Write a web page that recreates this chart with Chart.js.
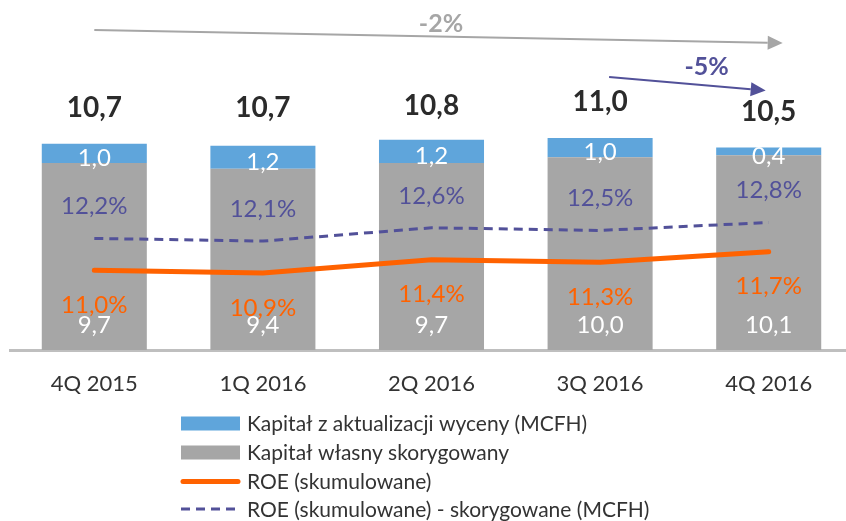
<!DOCTYPE html>
<html>
<head>
<meta charset="utf-8">
<script src="https://cdn.jsdelivr.net/npm/chart.js@4.4.0/dist/chart.umd.min.js"></script>
<style>
  html, body { margin: 0; padding: 0; overflow: hidden; background: #fff; width: 846px; height: 521px; }
  #wrap { width: 853px; height: 521px; }
</style>
</head>
<body>
<div id="wrap"><canvas id="c" width="853" height="521"></canvas></div>
<script>
// Quarterly equity (PLN bn) and cumulative ROE
const quarters = ['4Q 2015', '1Q 2016', '2Q 2016', '3Q 2016', '4Q 2016'];
const equityAdjusted = [9.7, 9.4, 9.7, 10.0, 10.1];
const revaluationReserve = [1.0, 1.2, 1.2, 1.0, 0.4];
const totalEquity = [10.7, 10.7, 10.8, 11.0, 10.5];
const roe = [11.0, 10.9, 11.4, 11.3, 11.7];
const roeAdjusted = [12.2, 12.1, 12.6, 12.5, 12.8];
const changeLabels = ['-2%', '-5%'];

const C_BLUE = '#5fa5db';
const C_GRAY = '#a6a6a6';
const C_ORANGE = '#ff6200';
const C_PURPLE = '#525199';
const C_TEXT = '#333333';
const FONT = 'Lato, "Open Sans", sans-serif';

const fmt = (v, pct) => v.toFixed(1).replace('.', ',') + (pct ? '%' : '');

function arrow(ctx, x1, y1, x2, y2, color, width) {
  const ang = Math.atan2(y2 - y1, x2 - x1);
  const len = 15, half = 7;
  const bx = x2 - len * Math.cos(ang), by = y2 - len * Math.sin(ang);
  ctx.save();
  ctx.strokeStyle = color; ctx.fillStyle = color; ctx.lineWidth = width;
  ctx.beginPath(); ctx.moveTo(x1, y1); ctx.lineTo(bx, by); ctx.stroke();
  ctx.beginPath();
  ctx.moveTo(x2, y2);
  ctx.lineTo(bx + half * Math.sin(ang), by - half * Math.cos(ang));
  ctx.lineTo(bx - half * Math.sin(ang), by + half * Math.cos(ang));
  ctx.closePath(); ctx.fill();
  ctx.restore();
}

const labelsPlugin = {
  id: 'valueLabels',
  afterDatasetsDraw(chart) {
    const ctx = chart.ctx;
    const xs = chart.scales.x, ys = chart.scales.y, y1 = chart.scales.y1;
    ctx.save();
    ctx.textAlign = 'center';
    ctx.textBaseline = 'middle';
    quarters.forEach((q, i) => {
      const x = xs.getPixelForValue(i);
      // adjusted equity, near the bar foot
      ctx.font = '24px ' + FONT;
      ctx.fillStyle = '#ffffff';
      ctx.fillText(fmt(equityAdjusted[i]), x, ys.getPixelForValue(0) - 25);
      // revaluation reserve, around the top segment
      const segMid = (ys.getPixelForValue(equityAdjusted[i]) + ys.getPixelForValue(equityAdjusted[i] + revaluationReserve[i])) / 2;
      ctx.fillText(fmt(revaluationReserve[i]), x, segMid + 5);
      // ROE labels
      ctx.fillStyle = C_PURPLE;
      ctx.fillText(fmt(roeAdjusted[i], true), x, y1.getPixelForValue(roeAdjusted[i]) - 32);
      ctx.fillStyle = C_ORANGE;
      ctx.fillText(fmt(roe[i], true), x, y1.getPixelForValue(roe[i]) + 35);
      // totals
      ctx.font = 'bold 28px ' + FONT;
      ctx.fillStyle = '#2b2b2b';
      ctx.fillText(fmt(totalEquity[i]), x, ys.getPixelForValue(totalEquity[i]) - 36);
    });
    ctx.restore();
  },
  afterDraw(chart) {
    const ctx = chart.ctx;
    const xs = chart.scales.x;
    const xFirst = xs.getPixelForValue(0), xPrev = xs.getPixelForValue(3), xLast = xs.getPixelForValue(4);
    // change arrows
    arrow(ctx, xFirst, 30, xLast + 14, 43, '#a6a6a6', 2);
    arrow(ctx, xPrev + 9, 77, xLast - 3, 90.5, C_PURPLE, 2);
    ctx.save();
    ctx.textAlign = 'center'; ctx.textBaseline = 'middle';
    ctx.font = 'bold 25px ' + FONT;
    ctx.fillStyle = '#a6a6a6';
    ctx.fillText(changeLabels[0], 441, 24);
    ctx.fillStyle = C_PURPLE;
    ctx.fillText(changeLabels[1], xLast - 62, 66.5);

    // legend
    const ds = chart.data.datasets;
    const order = [1, 0, 2, 3];
    const lx = 181, sw = 59, tx = 247;
    const rows = [423.5, 452.5, 481.5, 509];
    ctx.textAlign = 'left';
    ctx.font = '21px ' + FONT;
    order.forEach((di, r) => {
      const d = ds[di], cy = rows[r];
      if (d.type === 'bar') {
        ctx.fillStyle = d.backgroundColor;
        ctx.fillRect(lx, cy - 7, sw, 14);
      } else {
        ctx.save();
        ctx.strokeStyle = d.borderColor;
        ctx.lineWidth = d.borderWidth;
        ctx.lineCap = d.borderDash ? 'butt' : 'round';
        ctx.setLineDash(d.borderDash || []);
        ctx.beginPath();
        ctx.moveTo(lx + (d.borderDash ? 0 : 2), cy);
        ctx.lineTo(lx + sw - (d.borderDash ? 0 : 2), cy);
        ctx.stroke();
        ctx.restore();
      }
      ctx.fillStyle = C_TEXT;
      ctx.fillText(d.label, tx, cy + 1);
    });
    ctx.restore();
  }
};

new Chart(document.getElementById('c'), {
  data: {
    labels: quarters,
    datasets: [
      { type: 'bar', label: 'Kapitał własny skorygowany', data: equityAdjusted,
        backgroundColor: C_GRAY, stack: 'eq', order: 1, yAxisID: 'y' },
      { type: 'bar', label: 'Kapitał z aktualizacji wyceny (MCFH)', data: revaluationReserve,
        backgroundColor: C_BLUE, stack: 'eq', order: 1, yAxisID: 'y' },
      { type: 'line', label: 'ROE (skumulowane)', data: roe, yAxisID: 'y1', order: 0,
        borderColor: C_ORANGE, borderWidth: 5, borderCapStyle: 'round', pointRadius: 0, tension: 0 },
      { type: 'line', label: 'ROE (skumulowane) - skorygowane (MCFH)', data: roeAdjusted, yAxisID: 'y1', order: 0,
        borderColor: C_PURPLE, borderWidth: 3, borderDash: [9, 6], pointRadius: 0, tension: 0 }
    ]
  },
  options: {
    responsive: false,
    devicePixelRatio: 1,
    animation: false,
    layout: { padding: { left: 10, right: 0, top: 3, bottom: 0 } },
    plugins: { legend: { display: false }, tooltip: { enabled: false } },
    datasets: { bar: { barPercentage: 0.623, categoryPercentage: 1.0 } },
    scales: {
      x: {
        stacked: true,
        grid: { display: false, drawTicks: false },
        border: { display: true, color: '#bfbfbf', width: 3 },
        ticks: { color: C_TEXT, font: { family: FONT, size: 22 }, padding: 21, maxRotation: 0 },
        afterFit(scale) { scale.height = 171; }
      },
      y: { stacked: true, display: false, min: 0, max: 18 },
      y1: { display: false, min: 8, max: 21.06 }
    }
  },
  plugins: [labelsPlugin]
});
</script>
</body>
</html>
